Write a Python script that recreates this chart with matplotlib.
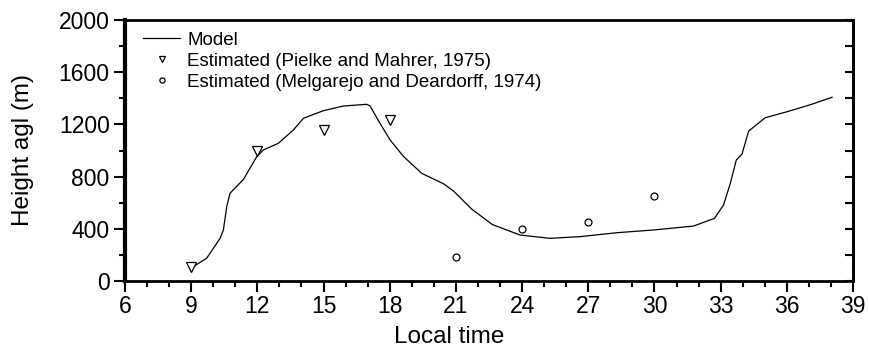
import matplotlib
matplotlib.use("Agg")
import matplotlib.pyplot as plt
from matplotlib.ticker import MultipleLocator

plt.rcParams['font.family'] = ['Liberation Sans', 'DejaVu Sans']

# Model curve (local time, height agl in m)
model_t = [9.02, 9.70, 10.31, 10.46, 10.61, 10.76, 11.37, 11.97, 12.27, 12.95,
           13.63, 14.09, 14.99, 15.90, 16.96, 17.11, 17.56, 18.02, 18.62, 19.45,
           20.44, 20.89, 21.72, 22.65, 23.91, 25.27, 26.63, 28.30, 29.96, 31.77,
           32.72, 33.13, 33.44, 33.71, 33.97, 34.27, 35.02, 36.01, 37.07, 38.05]
model_h = [102, 174, 327, 391, 569, 672, 779, 952, 1004, 1055,
           1157, 1247, 1305, 1341, 1354, 1341, 1208, 1080, 955, 825,
           745, 690, 550, 433, 352, 327, 340, 370, 391, 421,
           480, 582, 749, 927, 973, 1149, 1251, 1297, 1351, 1408]

pm_t = [9, 12, 15, 18]
pm_h = [105, 995, 1155, 1236]

md_t = [21, 24, 27, 30]
md_h = [186, 401, 450, 651]

fig = plt.figure(figsize=(8.7, 3.51), dpi=100)
ax = fig.add_axes([125/870, 70/351, 728/870, 261/351])

ax.plot(model_t, model_h, color='black', lw=0.9, label='Model')
ax.plot(pm_t, pm_h, linestyle='none', marker='v', ms=6.5, mfc='white', mec='black',
        mew=0.9, label='Estimated (Pielke and Mahrer, 1975)')
ax.plot(md_t, md_h, linestyle='none', marker='o', ms=5, mfc='white', mec='black',
        mew=0.9, label='Estimated (Melgarejo and Deardorff, 1974)')

ax.set_xlim(6, 39)
ax.set_ylim(0, 2000)
ax.xaxis.set_major_locator(MultipleLocator(3))
ax.xaxis.set_minor_locator(MultipleLocator(1))
ax.yaxis.set_major_locator(MultipleLocator(400))
ax.yaxis.set_minor_locator(MultipleLocator(200))

ax.tick_params(axis='x', which='major', direction='out', length=8, width=1.5,
               labelsize=16.5, pad=2)
ax.tick_params(axis='x', which='minor', direction='out', length=4.5, width=1.5)
ax.tick_params(axis='y', which='major', direction='out', length=8, width=1.5,
               labelsize=16.5, pad=3)
ax.tick_params(axis='y', which='minor', direction='out', length=4, width=1.5)
ax.tick_params(axis='y', which='both', right=False)

ax.spines['left'].set_linewidth(3)
ax.spines['bottom'].set_linewidth(2)
ax.spines['top'].set_linewidth(2)
ax.spines['right'].set_linewidth(2)

# right-side ticks point inward
sec = ax.secondary_yaxis('right')
sec.yaxis.set_major_locator(MultipleLocator(200))
sec.tick_params(direction='in', length=5.5, width=1.5, labelright=False)
sec.spines['right'].set_linewidth(2)

ax.set_xlabel('Local time', fontsize=17.5)
ax.set_ylabel('Height agl (m)', fontsize=17.5)
ax.xaxis.set_label_coords(0.445, -0.172)
ax.yaxis.set_label_coords(-0.125, 0.5)

ax.legend(loc='upper left', frameon=False, fontsize=13.5, handlelength=2.0,
          handletextpad=0.36, labelspacing=0.2, borderpad=0, borderaxespad=0,
          markerscale=0.75, bbox_to_anchor=(0.0247, 0.955))

fig.savefig('out.png', dpi=100)
